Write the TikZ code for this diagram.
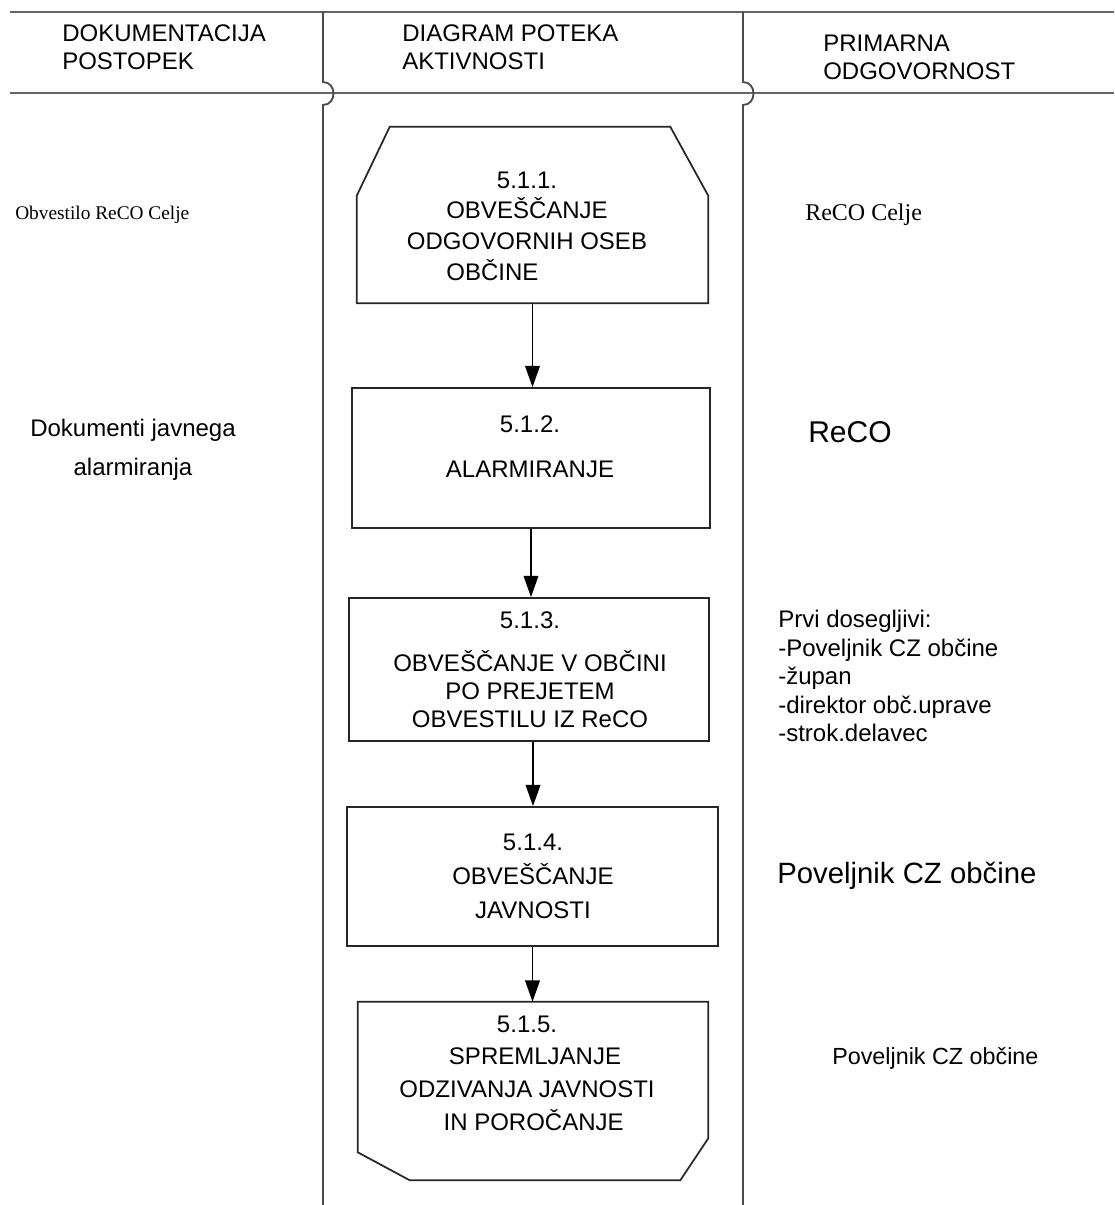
\documentclass[tikz,border=0pt]{standalone}
\usepackage{fontspec}
\setmainfont{Liberation Sans}
\newfontfamily\seriffam{Liberation Serif}
\usetikzlibrary{arrows.meta,calc}
\tikzset{
  x=0.75pt, y=-0.75pt,
  hdrline/.style={draw=black!60, line width=2pt},
  colline/.style={draw=black!70, line width=1.4pt},
  boxline/.style={draw=black!85, line width=1.3pt},
  frame/.style={rectangle, inner sep=0pt, draw=none},
  boxtxt/.style={inner sep=0pt, align=center, font=\fontsize{18}{23}\selectfont},
  hdrtxt/.style={inner sep=0pt, anchor=west, align=left, font=\fontsize{18}{21}\selectfont},
  sidetxt/.style={inner sep=0pt, anchor=west, align=left},
  flow/.style={-{Triangle[length=16pt,width=11pt]}, line width=1.3pt, black},
}
\begin{document}
\begin{tikzpicture}
\useasboundingbox (0,0) rectangle (1114,1205);

% header lines
\draw[hdrline] (10,12) -- (1114,12);
\draw[hdrline] (10,93) -- (1114,93);
% column lines with jumps
\draw[colline] (323,12) -- (323,82) .. controls (337,82) and (337,105) .. (323,105) -- (323,1205);
\draw[colline] (743,12) -- (743,82) .. controls (757,82) and (757,105) .. (743,105) -- (743,1205);

% header texts
\node[hdrtxt] (h1) at (62,47) {DOKUMENTACIJA\\POSTOPEK};
\node[hdrtxt] (h2) at (402,47) {DIAGRAM POTEKA\\AKTIVNOSTI};
\node[hdrtxt] (h3) at (823,57) {PRIMARNA\\ODGOVORNOST};

% box frames
\node[frame, minimum width=263.25pt, minimum height=132pt] (box1) at (532.5,215) {};
\node[frame, boxline, minimum width=268.5pt, minimum height=105pt] (box2) at (531,458) {};
\node[frame, boxline, minimum width=270pt, minimum height=107.25pt] (box3) at (529,669.5) {};
\node[frame, boxline, minimum width=278.25pt, minimum height=104.25pt] (box4) at (532.5,876.5) {};
\node[frame, minimum width=262.5pt, minimum height=133.5pt] (box5) at (533,1091) {};

\draw[boxline] (box1.south west) -- ($(box1.north west)+(0,69)$) -- ($(box1.north west)+(33,0)$)
  -- ($(box1.north east)+(-38,0)$) -- ($(box1.north east)+(0,69)$) -- (box1.south east) -- cycle;
\draw[boxline] (box5.north west) -- (box5.north east) -- ($(box5.south east)+(0,-42)$)
  -- ($(box5.south east)+(-28,0)$) -- ($(box5.south west)+(52,0)$) -- ($(box5.south west)+(0,-28)$) -- cycle;

% box texts
\node[boxtxt] (t1) at (527,226) {5.1.1.\\OBVEŠČANJE\\ODGOVORNIH OSEB\\OBČINE\hspace*{52pt}};
\node[boxtxt] (t2) at (530,447) {5.1.2.\\[11pt]ALARMIRANJE};
\node[boxtxt] (t3) at (530,670) {5.1.3.\\[9pt]OBVEŠČANJE V OBČINI\\[-2pt]PO PREJETEM\\[-2pt]OBVESTILU IZ ReCO};
\node[boxtxt, font=\fontsize{18}{25.5}\selectfont] (t4) at (533,876) {5.1.4.\\OBVEŠČANJE\\JAVNOSTI};
\node[boxtxt, font=\fontsize{18}{24.5}\selectfont] (t5) at (527,1073) {5.1.5.\\\hspace*{12pt}SPREMLJANJE\\ODZIVANJA JAVNOSTI\\\hspace*{10pt}IN POROČANJE};

% connectors
\draw[flow] (box1.south) -- (box1.south |- box2.north);
\draw[flow] (box2.south) -- (box2.south |- box3.north);
\draw[flow] (box3.south -| 533,0) -- (533,0 |- box4.north);
\draw[flow] (box4.south) -- (box4.south |- box5.north);

% left column
\node[sidetxt, font=\seriffam\fontsize{14.5}{17}\selectfont] (l1) at (15,215) {Obvestilo ReCO Celje};
\node[inner sep=0pt, align=center, font=\fontsize{18}{29}\selectfont] (l2) at (133,450) {Dokumenti javnega\\alarmiranja};

% right column
\node[sidetxt, font=\seriffam\fontsize{18}{21}\selectfont] (r1) at (805,215) {ReCO Celje};
\node[sidetxt, font=\fontsize{22.5}{26}\selectfont] (r2) at (808,432) {ReCO};
\node[sidetxt, font=\fontsize{18}{21.4}\selectfont] (r3) at (778,676) {Prvi dosegljivi:\\-Poveljnik CZ občine\\-župan\\-direktor obč.uprave\\-strok.delavec};
\node[sidetxt, font=\fontsize{22}{26}\selectfont] (r4) at (777,876) {Poveljnik CZ občine};
\node[sidetxt, font=\fontsize{17.5}{21}\selectfont] (r5) at (832,1058) {Poveljnik CZ občine};
\end{tikzpicture}
\end{document}
